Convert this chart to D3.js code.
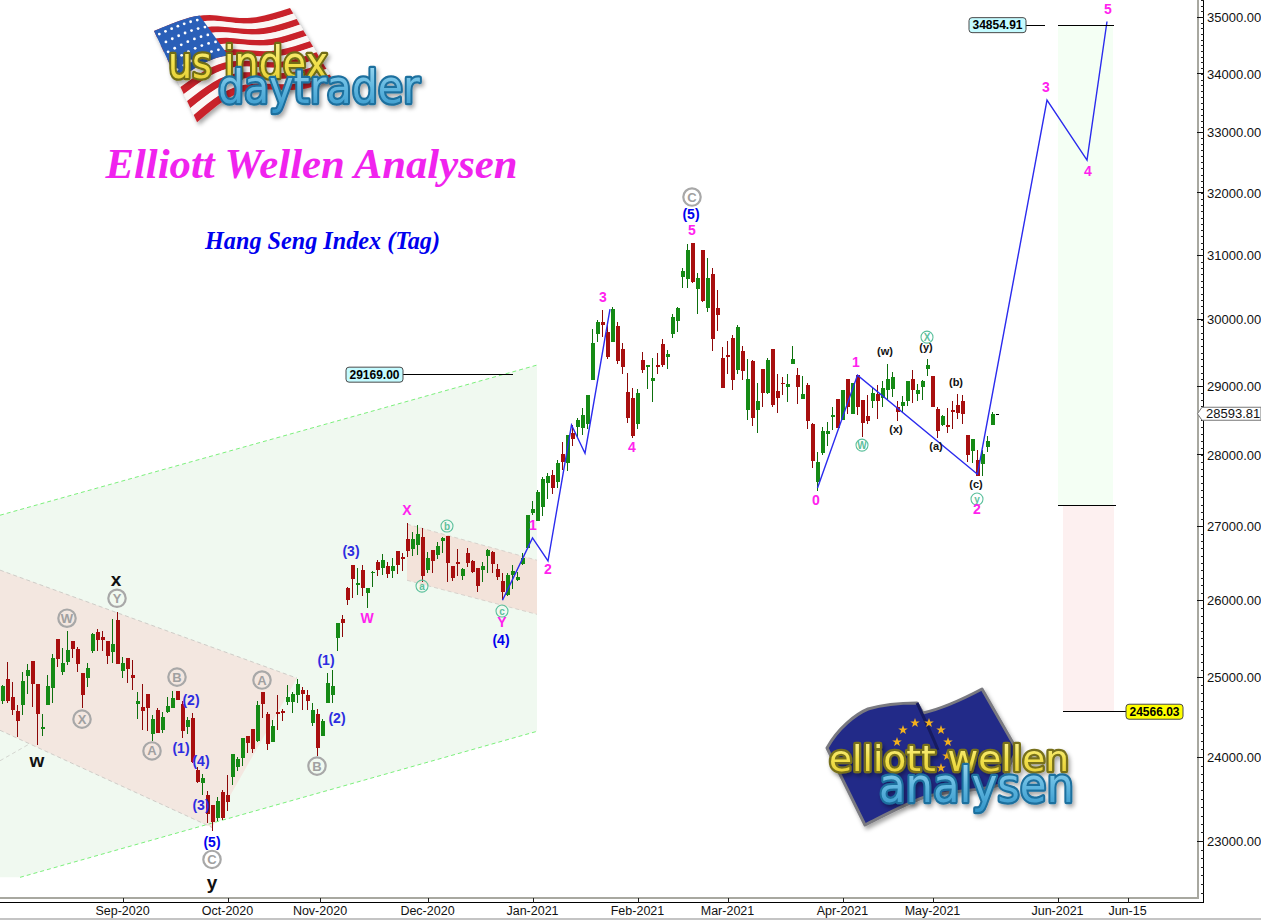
<!DOCTYPE html>
<html><head><meta charset="utf-8">
<script src="https://cdnjs.cloudflare.com/ajax/libs/d3/7.8.5/d3.min.js"></script>
<style>html,body{margin:0;padding:0;background:#fff;overflow:hidden}svg{display:block}text{font-family:"Liberation Sans",Arial,sans-serif}</style>
</head><body><div id="chart"></div>
<script>
// ---------- data ----------
const opens=[24704,24975,24750,24575,24653,25017,25209,24915,24359,24653,
24860,25492,25072,25196,25466,25363,25059,24996,25342,25583,
25518,25470,25325,25740,25080,25243,25030,24666,24624,24788,
24288,24587,24338,24566,24616,24826,24666,24375,24487,23843,
23694,23546,23425,23275,23586,23546,23767,23888,23998,24263,
24346,24202,24810,24533,24194,24562,24575,24687,24687,24771,
24839,24771,24429,24537,24267,24680,24776,25500,25748,26165,
26471,26206,26403,26098,26363,26517,26426,26458,26394,26661,
26579,26825,26688,26743,26852,26403,26675,26607,26802,26866,
26458,26512,26323,26634,26530,26426,26412,26593,26652,26417,
26256,26068,26336,26269,26480,26697,27177,27075,27270,27596,
27714,27620,28012,27880,28309,28405,28390,28444,29093,29785,
29957,29805,29663,29901,29552,28912,28823,28449,29387,29282,
29078,29312,29627,29432,29785,29983,30656,30625,31192,30470,
31081,30182,30703,30176,29417,29462,29719,29237,29522,28652,
29372,28652,29252,28892,29553,28927,29046,28991,29323,29165,
28805,29016,28443,27620,28022,28300,28550,28810,28501,29105,
28589,29170,28795,28560,28785,28883,28819,28947,28957,28697,
28711,28785,29100,28883,28991,29250,29156,28668,28434,28429,
28648,28721,28780,28285,28055,27927,27866,28118,28434,28593.81];
const closes=[24890,24704,24587,24450,24953,25100,24915,24533,24375,24890,
25243,25230,25179,25350,25359,25175,24776,25119,25552,25483,
25483,25277,25423,25175,25179,25110,24996,24700,24579,24616,
24475,24300,24500,24637,24742,24716,24325,24458,23949,23702,
23746,23315,23220,23473,23267,23457,24039,23978,24243,24181,
24104,24645,24666,24161,24388,24541,24554,24750,24784,24915,
24784,24704,24587,24112,24454,24932,24890,25696,25704,26002,
26287,26228,26165,26165,26381,26403,26539,26350,26458,26471,
26570,26665,26825,26894,26323,26561,26530,26729,26834,26503,
26300,26490,26417,26499,26381,26192,26453,26670,26485,26305,
26111,26345,26390,26305,26561,27154,27233,27475,27657,27699,
27536,27880,27903,28285,28232,28500,28574,28868,29643,29962,
29922,29437,30161,29372,29287,28535,28275,28897,29237,29312,
29113,29282,29312,29477,30038,30176,30751,31081,30578,30640,
30280,30640,29709,30069,28975,29437,29088,29886,29222,29103,
28535,28779,28897,29387,28726,28829,29026,29026,29401,28991,
28883,28491,27913,27894,28343,28343,28574,28381,28942,28687,
29040,28697,28453,28487,28893,28785,28966,29100,29131,28614,
28760,29075,28942,28942,29075,29311,28697,28348,28560,28405,
28619,28604,28589,27998,28228,27705,28012,28194,28584,28593.81];
const highs=[24903,25200,24937,24650,25063,25166,25209,24915,24537,25030,
25295,25492,25372,25595,25470,25385,25059,25179,25565,25618,
25600,25470,25749,25841,25256,25243,25222,24818,24915,24788,
24525,24608,24566,24754,24826,24826,24704,24496,24545,23888,
23799,23594,23425,23517,23606,23787,24039,24002,24243,24263,
24346,24700,24810,24566,24462,24776,24595,24903,24818,24979,
24873,24839,24670,24595,24470,25051,25093,25696,25805,26179,
26471,26426,26471,26165,26394,26539,26620,26517,26561,26661,
26629,27040,26926,27017,26971,26652,26675,26789,26848,26866,
26458,26688,26435,26697,26539,26426,26517,26684,26665,26485,
26359,26359,26471,26381,26629,27154,27354,27503,27690,27750,
27785,27927,28188,28285,28429,28526,28672,28868,29856,29993,
30146,29943,30197,29957,29638,29187,28966,28956,29502,29312,
29422,29497,29700,29537,30079,30197,30793,31171,31192,30714,
31081,30955,30793,30455,29577,29673,29765,29917,29597,29402,
29382,29039,29252,29412,29553,29181,29141,29181,29596,29264,
29151,29051,28453,28036,28405,28477,28687,28810,28942,29105,
29040,29170,28795,28868,28966,29016,29075,29327,29212,28785,
28858,29075,29240,29031,29090,29401,29156,28687,28574,28682,
28780,28883,28868,28285,28228,28070,28070,28271,28614,28593.81];
const lows=[24662,24680,24525,24255,24525,24788,24628,24153,24263,24653,
24680,25136,25030,25157,25243,25072,24616,24882,25316,25342,
25342,25170,25179,25175,24987,24924,24839,24475,24338,24325,
24198,24296,24296,24554,24616,24712,24243,24288,23929,23686,
23546,23208,23117,23240,23248,23354,23666,23835,23896,24059,
24059,24194,24492,24092,24190,24338,24450,24650,24554,24670,
24587,24587,24388,24018,24263,24680,24670,25340,25520,25936,
26033,26068,26055,25902,26179,26323,26336,26300,26300,26350,
26394,26584,26593,26607,26247,26368,26368,26548,26638,26247,
26260,26327,26278,26440,26359,26111,26247,26372,26359,26269,
26002,26059,26157,26256,26471,26697,27163,27075,27140,27377,
27447,27536,27785,27771,28130,28260,28285,28367,29093,29653,
29740,29402,29663,29327,29177,28463,28246,28371,29198,28956,
28770,29177,29277,29252,29719,29815,30491,30491,30563,30084,
30264,30115,29522,29831,28975,29177,28941,29177,29088,28500,
28415,28318,28691,28882,28697,28609,28868,28770,29323,28731,
28805,28367,27819,27492,27998,28127,28357,28381,28501,28589,
28584,28574,28261,28443,28682,28516,28697,28795,28844,28491,
28599,28711,28746,28780,28795,29151,28687,28247,28420,28309,
28371,28516,28443,27903,27889,27705,27705,28046,28429,28593.81];

const priceTicks=[23000,24000,25000,26000,27000,28000,29000,30000,31000,32000,33000,34000,35000];
const timeBars=[24,45,63.5,85,106,127,145,168,186,211,225];
const timeLabels=["Sep-2020","Oct-2020","Nov-2020","Dec-2020","Jan-2021","Feb-2021","Mar-2021","Apr-2021","May-2021","Jun-2021","Jun-15"];

// overlays: [bar, price]
const greenChannel=[[-0.5,27153],[106.9,29312],[106.9,24322],[3.5,22578],[-0.5,22578]];
const brownChannelA=[[-0.5,26404],[58.9,24990],[41.9,23160],[-0.5,24335]];
const brownChannelB=[[80.9,27030],[106.9,26537],[106.9,25816],[80.9,26268]];
const waveA=[[100,26002],[106,26841],[109.1,26527],[113.8,28430],[116.5,28025],[121.5,30159]];
const waveB=[[163,27531],[171,29162],[195,27727],[208.9,33550],[216.9,32540],[220.9,34920]];
const targetGreen=[211.1,222.1,34854.91,27282];
const targetRed=[212.1,222.3,27282,24566.03];
const levelLines=[[80.1,102.1,29169],[204.7,208.5,34854.91],[211.1,222.3,34854.91],[211.1,222.7,27282],[212.1,224.7,24566.03]];
const priceBoxes=[["29169.00",29169,80.1,"end","#c4fbff"],["34854.91",34854.91,204.7,"end","#c4fbff"],["24566.03",24566.03,224.7,"start","#ffff00"]];
const lastPrice=28593.81;

const heavyLabels=[["x",22.7,26281],["w",6.9,23968],["y",41.9,22522]];
const grayCircled=[["W",12.9,25765],["Y",22.9,26028],["X",15.9,24473],["A",29.9,24080],["B",34.9,25003],["A",51.9,24966],["B",62.9,23895],["C",41.9,22785],["C",137.9,31932]];
const blueLabels=[["(2)",37.7,24710],["(1)",35.7,24115],["(4)",39.7,23956],["(3)",39.7,23425],["(1)",64.7,25221],["(2)",66.9,24486],["(3)",69.7,26660]];
const strongBlueLabels=[["(5)",41.9,22984],["(4)",99.7,25480],["(5)",137.7,31656]];
const magentaLabels=[["W",72.9,25765],["X",80.9,27222],["Y",99.9,25713],["1",106.1,27016],["2",109.1,26418],["3",120.1,30345],["4",125.9,28112],["5",137.9,31399],["0",162.7,27363],["1",170.7,29354],["2",194.9,27237],["3",208.7,33773],["4",217.1,32358],["5",221.1,35143]];
const tealCircled=[["b",88.9,27004],["a",83.9,26190],["c",99.9,25859],["W",171.9,28141],["X",184.9,29732],["y",194.9,27378]];
const smallLabels=[["(w)",176.5,29522],["(y)",184.7,29582],["(b)",190.7,29057],["(x)",178.7,28371],["(a)",186.7,28127],["(c)",194.7,27587]];

// ---------- scales ----------
const W=1261,H=920;
const x=d3.scaleLinear().domain([0,199]).range([2.5,997.5]);
const y=d3.scaleLog().domain([23000,35000]).range([841,17]);
const svg=d3.select("#chart").append("svg").attr("width",W).attr("height",H);
const defs=svg.append("defs");
const pts=a=>a.map(d=>[x(d[0]),y(d[1])]);
const poly=d3.line();

// ---------- channels ----------
const gFill=svg.append("g");
gFill.append("path").attr("d",poly(pts(greenChannel))+"Z").attr("fill","#f0f9f0");
gFill.append("path").attr("d",poly(pts(brownChannelA))+"Z").attr("fill","#f3e7e0");
gFill.append("path").attr("d",poly(pts(brownChannelB))+"Z").attr("fill","#f3e3da");
const dash=(a,b,c)=>gFill.append("line").attr("x1",x(a[0])).attr("y1",y(a[1])).attr("x2",x(b[0])).attr("y2",y(b[1])).attr("stroke",c).attr("stroke-width",1).attr("stroke-dasharray","4 3");
dash(greenChannel[0],greenChannel[1],"#7cf07c");
dash(greenChannel[3],greenChannel[2],"#7cf07c");
dash(brownChannelA[0],brownChannelA[1],"#cfcdc8");
dash(brownChannelA[3],brownChannelA[2],"#cfcdc8");
dash(brownChannelB[0],brownChannelB[1],"#d8d2cc");
dash(brownChannelB[3],brownChannelB[2],"#d8d2cc");
dash([-0.5,23960],[5.5,24170],"#d4d6d0");

// ---------- target boxes ----------
const box=(b,c)=>gFill.append("rect").attr("x",x(b[0])).attr("width",x(b[1])-x(b[0])).attr("y",y(b[2])).attr("height",y(b[3])-y(b[2])).attr("fill",c);
box(targetGreen,"#f4fff4");
box(targetRed,"#fdf0f0");

// ---------- candles ----------
const bars=d3.range(opens.length).map(i=>({i,o:opens[i],h:highs[i],l:lows[i],c:closes[i]}));
const colBody=d=>d.c>d.o?"#158a15":d.c<d.o?"#a80f0f":"#000";
const colWick=d=>d.c>d.o?"#0d6f0d":d.c<d.o?"#8c0808":"#000";
const gC=svg.append("g").attr("shape-rendering","crispEdges");
gC.selectAll("line").data(bars).join("line")
 .attr("x1",d=>x(d.i)).attr("x2",d=>x(d.i)).attr("y1",d=>y(d.h)).attr("y2",d=>y(d.l))
 .attr("stroke",colWick).attr("stroke-width",1);
gC.selectAll("rect").data(bars).join("rect")
 .attr("x",d=>x(d.i)-(d.c===d.o?1.5:2)).attr("width",d=>d.c===d.o?3:4)
 .attr("y",d=>y(Math.max(d.o,d.c))).attr("height",d=>Math.max(1.5,Math.abs(y(d.o)-y(d.c))))
 .attr("fill",colBody);

// ---------- wave lines ----------
[waveA,waveB].forEach(w=>svg.append("path").attr("d",poly(pts(w))).attr("fill","none").attr("stroke","#2b2bee").attr("stroke-width",1.4));

// ---------- level lines + boxes ----------
levelLines.forEach(l=>svg.append("line").attr("x1",x(l[0])).attr("x2",x(l[1])).attr("y1",y(l[2])).attr("y2",y(l[2])).attr("stroke","#000").attr("shape-rendering","crispEdges"));
priceBoxes.forEach(b=>{
  const w=57,h=15,bx=b[3]==="end"?x(b[2])-w:x(b[2]),by=y(b[1])-h/2;
  svg.append("rect").attr("x",bx).attr("y",by).attr("width",w).attr("height",h).attr("rx",3).attr("fill",b[4]).attr("stroke","#4a4a4a").attr("stroke-width",1);
  svg.append("text").attr("x",bx+w/2).attr("y",by+11.5).attr("text-anchor","middle").attr("font-size",12).attr("font-weight","bold").attr("fill","#000").text(b[0]);
});

// ---------- wave labels ----------
const label=(arr,size,weight,col)=>arr.forEach(d=>{
  svg.append("text").attr("x",x(d[1])).attr("y",y(d[2])).attr("text-anchor","middle").attr("dominant-baseline","central")
    .attr("font-size",size).attr("font-weight",weight).attr("fill",col).text(d[0]);
});
label(heavyLabels,19,"bold","#111");
const circled=(arr,r,sw,stroke,size,col)=>arr.forEach(d=>{
  svg.append("circle").attr("cx",x(d[1])).attr("cy",y(d[2])).attr("r",r).attr("fill","none").attr("stroke",stroke).attr("stroke-width",sw);
  svg.append("text").attr("x",x(d[1])).attr("y",y(d[2])).attr("text-anchor","middle").attr("dominant-baseline","central").attr("font-size",size).attr("font-weight","bold").attr("fill",col).text(d[0]);
});
circled(grayCircled,8.7,2.2,"#a8a8a8",13,"#a0a0a0");
circled(tealCircled,6,1.1,"#5cc09c",10,"#5cc09c");
label(blueLabels,14,"bold","#2d2de0");
label(strongBlueLabels,14,"bold","#0000ee");
label(magentaLabels,14,"bold","#ff22ee");
label(smallLabels,11,"bold","#111");

// ---------- axes frame ----------
svg.append("rect").attr("x",0).attr("y",918).attr("width",W).attr("height",2).attr("fill","#c4c4c4");
const frame=svg.append("g").attr("shape-rendering","crispEdges");
frame.append("path").attr("d",`M0,897.5H1197.5V0`).attr("fill","none").attr("stroke","#a8a8a0").attr("stroke-width",2);
frame.append("path").attr("d",`M0,902.5H1203.5V0`).attr("fill","none").attr("stroke","#000").attr("stroke-width",1.5);

// right axis through d3
const gY=svg.append("g").attr("transform","translate(1203.5,0)");
const minor=d3.range(22400,35400,100);
gY.call(d3.axisLeft(y).tickValues(minor).tickSize(3).tickFormat(""));
gY.select(".domain").remove();
gY.selectAll("line").attr("stroke","#222").attr("shape-rendering","crispEdges");
const gYM=svg.append("g").attr("transform","translate(1203.5,0)");
gYM.call(d3.axisRight(y).tickValues(priceTicks).tickSize(0).tickPadding(3.5).tickFormat(d=>d3.format(".2f")(d)));
gYM.select(".domain").remove();
gYM.selectAll("text").attr("font-size",13).attr("font-family",'"Liberation Sans",Arial,sans-serif').attr("fill","#111");
priceTicks.forEach(p=>svg.append("line").attr("x1",1197).attr("x2",1203).attr("y1",y(p)).attr("y2",y(p)).attr("stroke","#111").attr("shape-rendering","crispEdges"));

// last price tag
const ly=y(lastPrice);
svg.append("path").attr("d",`M1197.5,${ly}L1202,${ly-6.5}H1261V${ly+6.5}H1202Z`).attr("fill","#fff").attr("stroke","#777").attr("stroke-width",1);
svg.append("text").attr("x",1206).attr("y",ly+4.7).attr("font-size",13).attr("fill","#111").text(d3.format(".2f")(lastPrice));

// bottom axis through d3
const gX=svg.append("g").attr("transform","translate(0,902.5)");
gX.call(d3.axisTop(x).tickValues(timeBars).tickSize(5).tickFormat(""));
gX.select(".domain").remove();
gX.selectAll("line").attr("stroke","#222").attr("shape-rendering","crispEdges");
timeBars.forEach((b,i)=>svg.append("text").attr("x",x(b)).attr("y",915).attr("text-anchor","middle").attr("font-size",12.5).attr("fill","#111").text(timeLabels[i]));

// ---------- titles ----------
svg.append("text").attr("x",311.5).attr("y",178).attr("text-anchor","middle").attr("font-size",42.7).attr("font-weight","bold").attr("font-style","italic").attr("fill","#f023ee").style("font-family",'"Liberation Serif",serif').text("Elliott Wellen Analysen");
svg.append("text").attr("x",322.5).attr("y",249).attr("text-anchor","middle").attr("font-size",24.2).attr("font-weight","bold").attr("font-style","italic").attr("fill","#0000ee").style("font-family",'"Liberation Serif",serif').text("Hang Seng Index (Tag)");

// ---------- logos (decorative) ----------
function grad(id,stops){const g=defs.append("linearGradient").attr("id",id).attr("x1",0).attr("y1",0).attr("x2",0).attr("y2",1);stops.forEach((c,i)=>g.append("stop").attr("offset",i/(stops.length-1)).attr("stop-color",c));}
grad("yel",["#fbf4a0","#f3e24e","#e2c92f"]);
grad("blu",["#a6ddf3","#63b8e0","#2f93c8"]);
const shadow=defs.append("filter").attr("id","sh").attr("x","-10%").attr("y","-10%").attr("width","125%").attr("height","125%");
shadow.append("feDropShadow").attr("dx",2).attr("dy",3).attr("stdDeviation",2).attr("flood-color","#000").attr("flood-opacity",.35);
function logoText(g,t,xx,yy,len,fs,fill,dark){
  g.append("text").attr("x",xx).attr("y",yy).attr("textLength",len).attr("lengthAdjust","spacingAndGlyphs").attr("font-size",fs)
   .style("font-family",'"DejaVu Sans",sans-serif').style("paint-order","stroke fill").attr("stroke-linejoin","round")
   .attr("fill",fill).attr("stroke",dark).attr("stroke-width",4.5).attr("filter","url(#sh)").text(t);
}
// US flag
const logo1=svg.append("g");
const Tx=d3.interpolateBasis([154,180,208,247,290]),Ty=d3.interpolateBasis([31,20,12,22,8]);
const Bx=d3.interpolateBasis([197,232,262,300,333]),By=d3.interpolateBasis([122,92,88,92,80]);
const S=(u,t)=>[Tx(u)+(Bx(u)-Tx(u))*t,Ty(u)+(By(u)-Ty(u))*t];
const patch=(u0,u1,t0,t1)=>{const up=d3.range(0,1.001,.05).map(a=>S(u0+(u1-u0)*a,t0));const dn=d3.range(1,-.001,-.05).map(a=>S(u0+(u1-u0)*a,t1));return poly(up.concat(dn))+"Z";};
const flagG=logo1.append("g").attr("filter","url(#sh)");
d3.range(13).forEach(k=>flagG.append("path").attr("d",patch(0,1,k/13,(k+1)/13+.002)).attr("fill",k%2?"#fbf7f5":"#c9232c"));
flagG.append("path").attr("d",patch(0,.42,0,7/13)).attr("fill","#2b5fb8");
d3.range(5).forEach(r=>d3.range(7).forEach(c=>{const p=S(.03+c*.058+(r%2)*.02,.05+r*.1);flagG.append("circle").attr("cx",p[0]).attr("cy",p[1]).attr("r",1.4).attr("fill","#fff");}));
logoText(logo1,"us index",168,78,160,44,"url(#yel)","#6f6c12");
logoText(logo1,"daytrader",218,103,202,46,"url(#blu)","#1d6f9e");
// EU flag
const logo2=svg.append("g");
logo2.append("path").attr("d","M827,748C838,728 856,714 868,709C885,704 905,703 917,703L923,713C945,708 965,698 982,689L1017,750L1000,785C975,792 950,790 925,797C905,804 885,815 865,825Z")
 .attr("fill","#232a88").attr("stroke","#7a7a80").attr("stroke-width",3).attr("stroke-linejoin","round").attr("filter","url(#sh)");
logo2.append("path").attr("d","M917,703C925,720 932,735 938,750").attr("fill","none").attr("stroke","#161b60").attr("stroke-width",3);
const starPts=d=>d3.range(10).map(i=>{const r=i%2?2:5,a=-Math.PI/2+i*Math.PI/5;return [d[0]+r*Math.cos(a),d[1]+r*Math.sin(a)];});
[[903,730],[915,723],[929,723],[941,730],[948,742],[947,756],[941,768],[897,742]].forEach(d=>logo2.append("path").attr("d",poly(starPts(d))+"Z").attr("fill","#f2b01e"));
logoText(logo2,"elliott wellen",829,771,240,36,"url(#yel)","#77701a");
logoText(logo2,"analysen",879,802,195,48,"url(#blu)","#1d6f9e");
</script></body></html>
